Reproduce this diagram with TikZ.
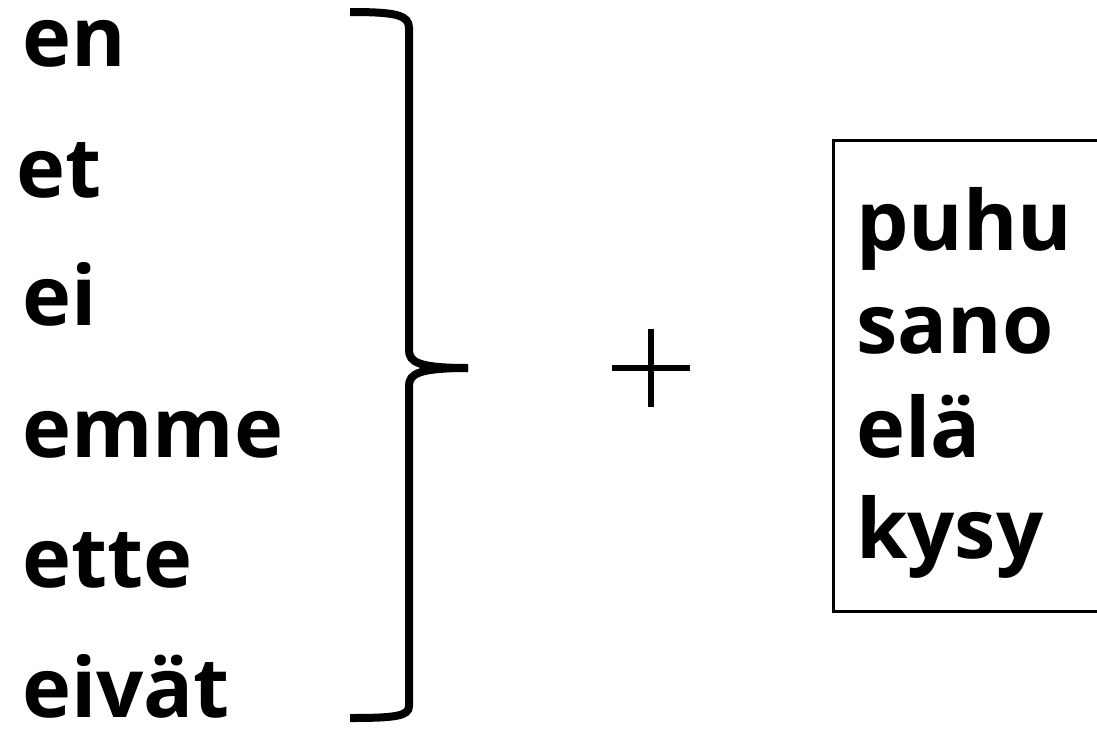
\documentclass[tikz,border=0pt]{standalone}
\usepackage{fontspec}
\setmainfont{Open Sans}
\usetikzlibrary{positioning}
\tikzset{
	word/.style={anchor=base west, inner sep=0pt, font=\bfseries\fontsize{83}{100}\selectfont},
	brace/.style={line width=8pt, line cap=butt},
}
\begin{document}
\begin{tikzpicture}[x=1pt,y=-1pt]
		\useasboundingbox (0,0) rectangle (1097,728);
		\clip (0,0) rectangle (1097,728);
		% negative forms
		\node[word] (en) at (22,66) {en};
		\node[word] (et) at (16,197) {et};
		\node[word] (ei) at (22,325) {ei};
		\node[word] (emme) at (22,457) {emme};
		\node[word] (ette) at (22,587) {ette};
		\node[word] (eivat) at (22,717) {eivät};
		% brace
		\draw[brace] (350,12) .. controls (396,12) and (409,15) .. (409,28) -- (409,350)
			.. controls (409,362) and (418,368) .. (468,368);
		\draw[brace] (468,368) .. controls (418,368) and (409,374) .. (409,386) -- (409,706)
			.. controls (409,716) and (396,718) .. (350,718);
		% plus
		\coordinate (plus) at (651,368);
		\draw[line width=6pt] ([xshift=-39pt]plus) -- ([xshift=39pt]plus);
		\draw[line width=6pt] ([yshift=-39pt]plus) -- ([yshift=39pt]plus);
		% stems
		\draw[line width=3pt] (833,140) rectangle (1120,611);
		\node[word] (puhu) at (856,250) {puhu};
		\node[word] (sano) at (856,353) {sano};
		\node[word] (ela) at (856,457) {elä};
		\node[word] (kysy) at (856,558) {kysy};
\end{tikzpicture}
\end{document}
